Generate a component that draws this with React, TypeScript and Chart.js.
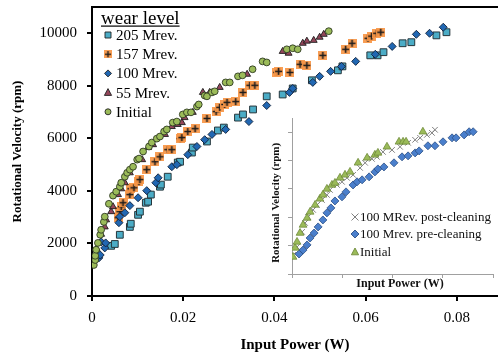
import React, { useEffect, useRef } from "react";
import { Chart, registerables } from "chart.js";

Chart.register(...registerables);

const FONT = "'Liberation Serif', 'Times New Roman', serif";

// ---------- main chart axes ----------
const xTicksMain = [0, 0.02, 0.04, 0.06, 0.08];
const xTickLabels = ["0", "0.02", "0.04", "0.06", "0.08"];
const yTicksMain = [0, 2000, 4000, 6000, 8000, 10000];
const yTickLabels = ["0", "2000", "4000", "6000", "8000", "10000"];

const legendTitle = "wear level";
const seriesLabels = ["205 Mrev.", "157 Mrev.", "100 Mrev.", "55 Mrev.", "Initial"];

// ---------- main chart data ----------
const initialX = [0.0004, 0.0007, 0.0007, 0.0009, 0.0013, 0.0018, 0.002, 0.0026, 0.0028, 0.0037, 0.0046, 0.0053, 0.0061, 0.0064, 0.0072, 0.0077, 0.0083, 0.009, 0.0099, 0.0103, 0.0112, 0.0125, 0.0131, 0.0142, 0.0149, 0.0158, 0.0164, 0.0177, 0.0186, 0.0199, 0.0208, 0.0217, 0.023, 0.0234, 0.0247, 0.0252, 0.0263, 0.0269, 0.0293, 0.0302, 0.032, 0.033, 0.0352, 0.0374, 0.0383, 0.0427, 0.044, 0.0451, 0.0519];
const initialY = [1180, 1370, 1530, 1760, 2020, 2330, 2520, 2820, 3020, 3510, 3820, 3970, 4160, 4310, 4540, 4690, 4810, 4920, 5190, 5230, 5500, 5690, 5840, 5990, 6070, 6260, 6340, 6600, 6640, 6910, 6990, 6990, 7210, 7290, 7630, 7600, 7750, 7790, 8130, 8130, 8360, 8400, 8630, 8930, 8890, 9390, 9430, 9390, 10080];

const mrev55X = [0.001, 0.002, 0.0028, 0.0031, 0.0042, 0.0046, 0.0057, 0.0064, 0.0072, 0.0083, 0.011, 0.0123, 0.0134, 0.016, 0.0175, 0.0188, 0.0197, 0.0203, 0.0221, 0.0243, 0.0258, 0.028, 0.034, 0.0418, 0.0431, 0.0462, 0.0471, 0.0486, 0.0499, 0.0508];
const mrev55Y = [1800, 2350, 2630, 2900, 3210, 3400, 3860, 4080, 4310, 4690, 5190, 5650, 5760, 6150, 6450, 6530, 6600, 6790, 6990, 7750, 7750, 7940, 8440, 9310, 9240, 9620, 9700, 9730, 9850, 9960];

const mrev100X = [0.0015, 0.0018, 0.002, 0.0028, 0.003, 0.0059, 0.0061, 0.0072, 0.0083, 0.0101, 0.012, 0.014, 0.0145, 0.0175, 0.0186, 0.021, 0.023, 0.0247, 0.0263, 0.0293, 0.0344, 0.0383, 0.0433, 0.044, 0.0484, 0.0499, 0.0523, 0.0547, 0.0578, 0.0621, 0.0658, 0.0711, 0.074, 0.077];
const mrev100Y = [1450, 1560, 2060, 1830, 2020, 2790, 3020, 3170, 3440, 3740, 4010, 4310, 4500, 4920, 5000, 5380, 5690, 5950, 6150, 6340, 6640, 7250, 7750, 7900, 8130, 8360, 8550, 8740, 8930, 9200, 9500, 9960, 10000, 10230];

const mrev157X = [0.0057, 0.0061, 0.0064, 0.0068, 0.0083, 0.0085, 0.0092, 0.0103, 0.0105, 0.012, 0.0138, 0.0149, 0.0166, 0.0175, 0.0193, 0.0197, 0.021, 0.0226, 0.0252, 0.0272, 0.028, 0.0291, 0.0296, 0.0315, 0.0331, 0.0346, 0.0357, 0.0405, 0.0409, 0.0434, 0.0456, 0.0471, 0.0506, 0.0556, 0.057, 0.0605, 0.0613, 0.0624, 0.0633];
const mrev157Y = [2980, 3210, 3400, 3550, 3860, 4080, 4120, 4350, 4430, 4810, 5110, 5300, 5570, 5570, 5990, 6030, 6260, 6370, 6760, 7020, 7180, 7290, 7370, 7400, 7750, 8020, 8020, 8510, 8550, 8510, 8820, 8780, 9160, 9390, 9620, 9810, 9890, 10000, 10040];

const mrev205X = [0.0042, 0.005, 0.0061, 0.0083, 0.0085, 0.0101, 0.0105, 0.0118, 0.0123, 0.0129, 0.0149, 0.0151, 0.0166, 0.0188, 0.0193, 0.0219, 0.0221, 0.0252, 0.0276, 0.0289, 0.032, 0.0331, 0.0353, 0.0383, 0.0418, 0.044, 0.0482, 0.0539, 0.0549, 0.061, 0.0626, 0.0639, 0.0681, 0.07, 0.0755, 0.0777];
const mrev205Y = [1910, 1980, 2330, 2630, 2750, 3090, 3210, 3550, 3590, 3860, 4160, 4240, 4540, 5080, 5110, 5460, 5650, 5880, 6300, 6410, 6790, 6910, 7100, 7600, 7670, 7900, 8210, 8590, 8740, 9160, 9160, 9280, 9620, 9660, 9920, 10040];

// ---------- inset data ----------
const insetXTicks = [0, 0.02, 0.04, 0.06, 0.08];
const insetYTicks = [0, 2000, 4000, 6000, 8000, 10000];
const insetLabels = ["100 MRev. post-cleaning", "100 Mrev. pre-cleaning", "Initial"];

const postX = [0.0004, 0.002, 0.004, 0.0052, 0.0064, 0.0084, 0.01, 0.0119, 0.0139, 0.0151, 0.0179, 0.0199, 0.0219, 0.0243, 0.0271, 0.0291, 0.0318, 0.0338, 0.0362, 0.0398, 0.043, 0.0462, 0.049, 0.051, 0.0537, 0.0557, 0.0569];
const postY = [1340, 1910, 2970, 3600, 4020, 4520, 4870, 5220, 5580, 5930, 6280, 6500, 6780, 6990, 7480, 7840, 8120, 8260, 8610, 8750, 8970, 9250, 9460, 9600, 9810, 9950, 10170];

const preX = [0.0028, 0.0044, 0.006, 0.0072, 0.0088, 0.0104, 0.0123, 0.0139, 0.0155, 0.0171, 0.0199, 0.0215, 0.0243, 0.0259, 0.0279, 0.0307, 0.033, 0.0342, 0.0366, 0.0406, 0.0438, 0.0462, 0.049, 0.0506, 0.0541, 0.0569, 0.0601, 0.0637, 0.0653, 0.0685, 0.0705, 0.0721];
const preY = [1410, 1690, 2050, 2540, 2890, 3320, 3810, 4310, 4660, 5150, 5440, 5790, 6280, 6500, 6640, 6850, 7200, 7410, 7550, 7840, 8260, 8330, 8540, 8680, 9040, 9040, 9320, 9600, 9600, 9810, 10030, 10030];

const insetInitX = [0.0004, 0.0012, 0.002, 0.0032, 0.0044, 0.006, 0.0072, 0.0092, 0.0111, 0.0123, 0.0139, 0.0159, 0.0171, 0.0191, 0.0211, 0.0231, 0.0263, 0.0299, 0.033, 0.0342, 0.0378, 0.0426, 0.0442, 0.0454, 0.0521];
const insetInitY = [1200, 1840, 2260, 2890, 3460, 3950, 4380, 4870, 5300, 5580, 6000, 6280, 6420, 6780, 6990, 7200, 7840, 8190, 8400, 8540, 8970, 9320, 9320, 9320, 10030];

function pts(xs: number[], ys: number[]) {
  const n = Math.min(xs.length, ys.length);
  const out: { x: number; y: number }[] = [];
  for (let i = 0; i < n; i++) out.push({ x: xs[i], y: ys[i] });
  return out;
}

type MarkerKind = "rect" | "plus" | "diamond" | "triangle" | "circle" | "x";

function drawMarker(
  ctx: CanvasRenderingContext2D,
  kind: MarkerKind,
  x: number,
  y: number,
  r: number,
  fill: string,
  stroke: string,
  plusImg?: HTMLCanvasElement
) {
  ctx.save();
  ctx.fillStyle = fill;
  ctx.strokeStyle = stroke;
  ctx.lineWidth = 0.9;
  ctx.beginPath();
  if (kind === "rect") {
    ctx.rect(x - r, y - r, 2 * r, 2 * r);
    ctx.fill();
    ctx.stroke();
  } else if (kind === "plus" && plusImg) {
    const s = 2 * r;
    ctx.drawImage(plusImg, x - r, y - r, s, s);
  } else if (kind === "diamond") {
    ctx.moveTo(x, y - r);
    ctx.lineTo(x + r, y);
    ctx.lineTo(x, y + r);
    ctx.lineTo(x - r, y);
    ctx.closePath();
    ctx.fill();
    ctx.stroke();
  } else if (kind === "triangle") {
    ctx.moveTo(x, y - r);
    ctx.lineTo(x + r * 0.9, y + r * 0.7);
    ctx.lineTo(x - r * 0.9, y + r * 0.7);
    ctx.closePath();
    ctx.fill();
    ctx.stroke();
  } else if (kind === "circle") {
    ctx.arc(x, y, r, 0, Math.PI * 2);
    ctx.fill();
    ctx.stroke();
  } else if (kind === "x") {
    ctx.lineWidth = 1;
    ctx.moveTo(x - r, y - r);
    ctx.lineTo(x + r, y + r);
    ctx.moveTo(x + r, y - r);
    ctx.lineTo(x - r, y + r);
    ctx.stroke();
  }
  ctx.restore();
}

export default function App() {
  const mainRef = useRef<HTMLCanvasElement>(null);
  const insetRef = useRef<HTMLCanvasElement>(null);

  useEffect(() => {
    const plus = document.createElement("canvas");
    plus.width = 9;
    plus.height = 9;
    const p = plus.getContext("2d")!;
    p.fillStyle = "rgba(247,150,70,0.92)";
    p.fillRect(0, 0, 9, 9);
    p.strokeStyle = "#1a1a1a";
    p.lineWidth = 1.6;
    p.beginPath();
    p.moveTo(4.5, 1);
    p.lineTo(4.5, 8);
    p.moveTo(1, 4.5);
    p.lineTo(8, 4.5);
    p.stroke();

    const colors = {
      m205: "#4bacc6",
      m100: "#2167b2",
      m55: "#94465a",
      init: "#9bbb59",
    };

    const topBorder = {
      id: "topBorder",
      afterDraw(chart: any) {
        const { ctx, chartArea } = chart;
        ctx.save();
        ctx.strokeStyle = "#000";
        ctx.lineWidth = 2;
        ctx.beginPath();
        ctx.moveTo(chartArea.left - 1, chartArea.top);
        ctx.lineTo(chartArea.right, chartArea.top);
        ctx.stroke();
        ctx.restore();
      },
    };

    const mainLegend = {
      id: "mainLegend",
      afterDraw(chart: any) {
        const ctx: CanvasRenderingContext2D = chart.ctx;
        ctx.save();
        ctx.fillStyle = "#000";
        ctx.font = `19px ${FONT}`;
        ctx.textBaseline = "alphabetic";
        ctx.textAlign = "left";
        ctx.fillText(legendTitle, 101, 24);
        const w = ctx.measureText(legendTitle).width;
        ctx.fillRect(101, 25.5, w, 1.2);
        ctx.font = `15px ${FONT}`;
        ctx.textBaseline = "middle";
        const kinds: MarkerKind[] = ["rect", "plus", "diamond", "triangle", "circle"];
        const fills = [colors.m205, "", colors.m100, colors.m55, colors.init];
        const radii = [3, 4, 3.5, 4, 3];
        seriesLabels.forEach((lab, i) => {
          const y = 35 + i * 19.2;
          drawMarker(ctx, kinds[i], 108, y, radii[i], fills[i], "#222", plus);
          ctx.fillStyle = "#000";
          ctx.fillText(lab, 116, y + 1);
        });
        ctx.restore();
      },
    };

    const zeroVPad = (a: any) => {
      a.paddingTop = 0;
      a.paddingBottom = 0;
    };
    const zeroHPad = (a: any) => {
      a.paddingLeft = 0;
      a.paddingRight = 0;
    };

    const main = new Chart(mainRef.current!, {
      type: "scatter",
      data: {
        datasets: [
          {
            label: seriesLabels[4],
            data: pts(initialX, initialY),
            pointStyle: "circle",
            pointRadius: 3.4,
            backgroundColor: colors.init,
            borderColor: "#2f3a22",
            borderWidth: 0.9,
          },
          {
            label: seriesLabels[3],
            data: pts(mrev55X, mrev55Y),
            pointStyle: "triangle",
            pointRadius: 4,
            backgroundColor: colors.m55,
            borderColor: "#1c1c1c",
            borderWidth: 0.9,
          },
          {
            label: seriesLabels[2],
            data: pts(mrev100X, mrev100Y),
            pointStyle: "rectRot",
            pointRadius: 4,
            backgroundColor: colors.m100,
            borderColor: "#10203a",
            borderWidth: 0.9,
          },
          {
            label: seriesLabels[1],
            data: pts(mrev157X, mrev157Y),
            pointStyle: plus as any,
            pointRadius: 4.5,
            backgroundColor: "#f79646",
            borderColor: "#000",
          },
          {
            label: seriesLabels[0],
            data: pts(mrev205X, mrev205Y),
            pointStyle: "rect",
            pointRadius: 4.8,
            backgroundColor: colors.m205,
            borderColor: "#26363c",
            borderWidth: 1,
          },
        ],
      },
      options: {
        animation: false,
        responsive: false,
        events: [],
        layout: { autoPadding: false, padding: { top: 7, right: 0, bottom: 0, left: 0 } },
        plugins: { legend: { display: false }, tooltip: { enabled: false } },
        scales: {
          x: {
            type: "linear",
            min: 0,
            max: 0.089,
            afterBuildTicks: (a: any) => {
              a.ticks = xTicksMain.map((v) => ({ value: v }));
            },
            afterFit: (a: any) => {
              a.height = 60;
              zeroHPad(a);
            },
            ticks: {
              callback: (_v: any, i: number) => xTickLabels[i],
              font: { family: FONT, size: 15 },
              color: "#000",
              padding: 8,
              maxRotation: 0,
              autoSkip: false,
            },
            grid: { drawOnChartArea: false, drawTicks: true, tickLength: 5, color: "#000", lineWidth: 2 },
            border: { display: true, color: "#000", width: 2 },
            title: {
              display: true,
              text: "Input Power (W)",
              font: { family: FONT, size: 15, weight: "bold" },
              color: "#000",
              padding: { top: 0, bottom: 2 },
            },
          },
          y: {
            type: "linear",
            min: 0,
            max: 11000,
            afterBuildTicks: (a: any) => {
              a.ticks = yTicksMain.map((v) => ({ value: v }));
            },
            afterFit: (a: any) => {
              a.width = 92;
              zeroVPad(a);
            },
            ticks: {
              callback: (_v: any, i: number) => yTickLabels[i],
              font: { family: FONT, size: 15 },
              color: "#000",
              padding: 10,
            },
            grid: { drawOnChartArea: false, drawTicks: true, tickLength: 5, color: "#000", lineWidth: 2 },
            border: { display: true, color: "#000", width: 2 },
            title: {
              display: true,
              text: "Rotational Velocity (rpm)",
              font: { family: FONT, size: 13, weight: "bold" },
              color: "#000",
              padding: { top: 10, bottom: 0 },
            },
          },
        },
      } as any,
      plugins: [topBorder, mainLegend],
    });

    const insetColors = { post: "#808080", pre: "#4a7fcc", init: "#9bbb59" };

    const insetLegend = {
      id: "insetLegend",
      afterDraw(chart: any) {
        const ctx: CanvasRenderingContext2D = chart.ctx;
        ctx.save();
        ctx.font = `13px ${FONT}`;
        ctx.textBaseline = "middle";
        ctx.textAlign = "left";
        const kinds: MarkerKind[] = ["x", "diamond", "triangle"];
        const fills = ["", insetColors.pre, insetColors.init];
        const strokes = [insetColors.post, "#2b4f85", "#6f8a3a"];
        const ys = [105, 122, 140];
        insetLabels.forEach((lab, i) => {
          drawMarker(ctx, kinds[i], 93, ys[i], kinds[i] === "x" ? 3.5 : 4, fills[i], strokes[i]);
          ctx.fillStyle = "#111";
          ctx.fillText(lab, 98, ys[i] + 1);
        });
        ctx.restore();
      },
    };

    const inset = new Chart(insetRef.current!, {
      type: "scatter",
      data: {
        datasets: [
          {
            label: insetLabels[2],
            data: pts(insetInitX, insetInitY),
            pointStyle: "triangle",
            pointRadius: 4.5,
            backgroundColor: insetColors.init,
            borderColor: "#6f8a3a",
            borderWidth: 0.8,
          },
          {
            label: insetLabels[1],
            data: pts(preX, preY),
            pointStyle: "rectRot",
            pointRadius: 4,
            backgroundColor: insetColors.pre,
            borderColor: "#2b4f85",
            borderWidth: 0.8,
          },
          {
            label: insetLabels[0],
            data: pts(postX, postY),
            pointStyle: "crossRot",
            pointRadius: 4,
            backgroundColor: insetColors.post,
            borderColor: insetColors.post,
            borderWidth: 1,
          },
        ],
      },
      options: {
        animation: false,
        responsive: false,
        events: [],
        layout: { autoPadding: false, padding: { top: 6, right: 5, bottom: 0, left: 0 } },
        plugins: { legend: { display: false }, tooltip: { enabled: false } },
        scales: {
          x: {
            type: "linear",
            min: 0,
            max: 0.08,
            afterBuildTicks: (a: any) => {
              a.ticks = insetXTicks.map((v) => ({ value: v }));
            },
            afterFit: (a: any) => {
              a.height = 20;
              zeroHPad(a);
            },
            ticks: { display: false },
            grid: { drawOnChartArea: false, drawTicks: true, tickLength: 4, color: "#a0a0a0", lineWidth: 1 },
            border: { display: true, color: "#a0a0a0", width: 1 },
            title: {
              display: true,
              text: "     Input Power (W)",
              font: { family: FONT, size: 12, weight: "bold" },
              color: "#111",
              padding: { top: 0, bottom: 3 },
            },
          },
          y: {
            type: "linear",
            min: 0,
            max: 11000,
            afterBuildTicks: (a: any) => {
              a.ticks = insetYTicks.map((v) => ({ value: v }));
            },
            afterFit: (a: any) => {
              a.width = 30;
              zeroVPad(a);
            },
            ticks: { display: false },
            grid: { drawOnChartArea: false, drawTicks: true, tickLength: 4, color: "#a0a0a0", lineWidth: 1 },
            border: { display: true, color: "#a0a0a0", width: 1 },
            title: {
              display: true,
              text: "Rotational Velocity (rpm)     ",
              font: { family: FONT, size: 11, weight: "bold" },
              color: "#111",
              padding: { top: 8, bottom: 0 },
            },
          },
        },
      } as any,
      plugins: [insetLegend],
    });

    return () => {
      main.destroy();
      inset.destroy();
    };
  }, []);

  return (
    <div
      style={{
        position: "absolute",
        left: 0,
        top: 0,
        width: 498,
        height: 356,
        overflow: "hidden",
        background: "#fff",
      }}
    >
      <canvas ref={mainRef} width={498} height={356} style={{ display: "block", width: 498, height: 356 }} />
      <canvas
        ref={insetRef}
        width={236}
        height={182}
        style={{ position: "absolute", left: 262, top: 112, width: 236, height: 182, background: "#fff" }}
      />
    </div>
  );
}
